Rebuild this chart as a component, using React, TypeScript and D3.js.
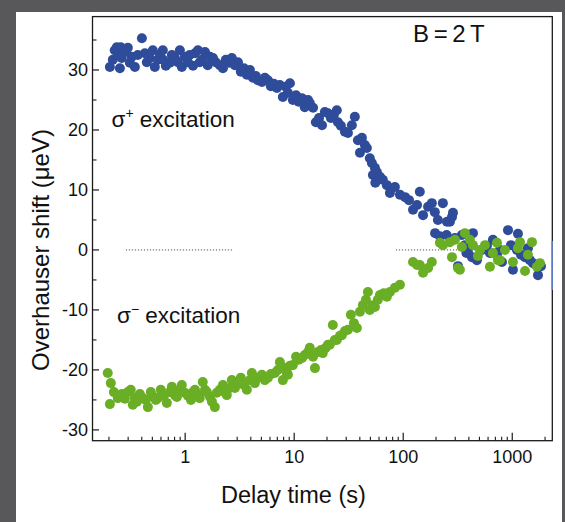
import React from 'react';
import * as d3 from 'd3';

// sigma+ excitation: [delay time (s), Overhauser shift (µeV)]
const sigmaPlus: [number, number][] = [
  [0.204,30.5],[0.217,31.7],[0.226,33.3],[0.236,33.8],[0.241,32.5],[0.257,33.8],[0.252,30.3],[0.262,32.0],
  [0.280,33.0],[0.298,33.7],[0.311,31.2],[0.324,32.2],[0.346,30.5],[0.368,32.5],[0.401,35.3],[0.427,32.8],
  [0.445,31.3],[0.474,32.0],[0.505,33.3],[0.527,30.5],[0.562,31.7],[0.586,32.5],[0.624,33.3],[0.63,31.7],
  [0.665,30.7],[0.724,31.2],[0.755,32.5],[0.805,32.0],[0.857,31.3],[0.894,33.3],[0.932,30.5],[0.994,32.2],
  [1.06,31.3],[1.10,32.5],[1.18,30.7],[1.23,32.8],[1.31,33.3],[1.36,31.3],[1.42,31.7],[1.52,33.0],
  [1.61,30.8],[1.69,32.2],[1.80,32.0],[1.91,31.3],[2.08,30.8],[2.22,30.3],[2.36,31.7],[2.52,31.2],
  [2.68,32.0],[2.86,30.8],[3.05,31.3],[3.24,29.7],[3.46,30.3],[3.68,29.2],[3.93,30.0],[4.18,28.7],
  [4.45,29.0],[4.64,28.3],[5.06,28.0],[5.38,28.7],[5.74,28.3],[6.11,27.3],[6.51,27.7],[6.94,27.0],
  [7.39,27.5],[7.87,25.5],[8.39,27.2],[8.75,26.2],[9.14,27.8],[9.73,25.0],[10.4,25.8],[11.0,24.7],
  [11.8,25.3],[12.5,23.8],[13.4,25.0],[13.9,24.5],[14.9,23.7],[15.8,21.3],[16.9,22.0],[18.0,20.8],
  [19.1,23.0],[20.4,22.8],[21.7,22.0],[23.1,22.5],[24.6,23.3],[25.2,21.3],[26.8,20.7],[29.2,19.7],
  [31.1,19.5],[33.8,20.8],[36.0,22.2],[38.4,18.3],[41.8,18.7],[44.5,17.5],[46.4,17.0],[40.1,16.2],
  [49.4,15.3],[51.6,14.5],[55.0,13.7],[52.7,12.5],[57.3,13.0],[61.1,12.2],[55.5,11.2],[65.0,11.7],
  [70.8,10.8],[75.5,9.5],[83.9,10.5],[93.3,9.2],[104,8.8],[113,8.3],[123,6.7],[134,7.5],
  [142,9.7],[152,5.8],[169,7.2],[183,7.8],[195,6.3],[208,5.0],[231,7.8],[252,4.7],
  [280,5.5],[286,6.2],[196,2.8],[217,2.3],[250,2.5],[268,4.7],[298,2.0],[318,-2.7],
  [345,2.5],[368,0.8],[380,-0.5],[392,-0.3],[427,-1.2],[436,2.8],[474,-1.7],[527,0.0],
  [586,0.7],[624,-0.5],[665,1.7],[724,-0.8],[771,0.0],[805,-2.0],[914,3.3],[973,0.8],
  [1015,-3.3],[1104,0.0],[1128,2.7],[1202,-0.8],[1309,-1.2],[1393,0.3],[1453,-1.7],[1549,-2.2],
  [1722,-4.2],[1834,-2.7],
];

// sigma- excitation: [delay time (s), Overhauser shift (µeV)]
const sigmaMinus: [number, number][] = [
  [0.195,-20.5],[0.208,-22.2],[0.204,-25.7],[0.222,-23.7],[0.241,-24.7],[0.262,-24.0],[0.280,-24.8],[0.298,-23.7],
  [0.317,-23.3],[0.331,-25.8],[0.346,-24.7],[0.361,-25.3],[0.384,-24.0],[0.409,-24.7],[0.436,-25.0],[0.455,-26.2],
  [0.484,-23.7],[0.516,-24.5],[0.538,-25.0],[0.562,-24.7],[0.598,-23.3],[0.637,-24.3],[0.679,-25.5],[0.724,-23.7],
  [0.755,-22.8],[0.805,-24.2],[0.839,-24.5],[0.894,-23.3],[0.932,-22.5],[0.994,-23.8],[1.06,-24.3],[1.13,-25.0],
  [1.18,-23.7],[1.23,-23.3],[1.31,-24.2],[1.36,-24.7],[1.45,-22.0],[1.52,-23.3],[1.58,-23.7],[1.69,-24.5],
  [1.76,-25.3],[1.87,-26.2],[1.95,-23.8],[2.08,-23.3],[2.22,-22.5],[2.31,-23.7],[2.41,-24.2],[2.57,-23.0],
  [2.68,-21.7],[2.86,-23.0],[3.05,-22.2],[3.24,-21.3],[3.46,-22.5],[3.68,-23.3],[3.93,-21.7],[4.09,-20.5],
  [4.36,-22.2],[4.64,-21.3],[5.06,-20.8],[5.38,-21.7],[5.74,-21.3],[6.11,-20.7],[6.65,-20.5],[7.08,-20.0],
  [7.39,-18.7],[7.87,-21.7],[8.22,-19.7],[8.57,-20.5],[8.75,-20.8],[9.14,-19.3],[9.73,-19.2],[10.4,-17.8],
  [11.0,-18.3],[11.8,-18.0],[12.5,-17.5],[13.4,-17.0],[13.9,-16.3],[14.9,-17.8],[15.5,-19.7],[16.5,-17.0],
  [17.6,-16.7],[18.3,-17.2],[19.5,-16.3],[20.4,-15.8],[21.2,-15.8],[22.6,-12.5],[23.6,-15.0],[24.6,-15.0],
  [26.3,-14.3],[27.4,-14.2],[29.2,-13.5],[31.1,-13.3],[33.1,-10.8],[35.3,-12.2],[37.6,-13.0],[40.1,-10.3],
  [42.7,-9.2],[45.5,-8.3],[47.4,-7.0],[49.4,-10.0],[52.7,-9.2],[55.0,-9.5],[58.5,-8.3],[61.1,-7.5],
  [66.4,-7.2],[70.8,-7.8],[75.5,-7.0],[83.9,-6.3],[93.3,-5.8],[123,-2.0],[134,-2.5],[142,-2.5],
  [152,-3.8],[169,-3.0],[183,-2.0],[217,1.2],[231,0.8],[268,1.3],[280,-1.2],[298,1.7],
  [318,-3.0],[331,-3.3],[345,0.5],[368,2.8],[409,1.7],[436,0.8],[484,-1.0],[506,0.0],
  [562,0.8],[624,-2.8],[665,-0.5],[724,1.2],[740,-1.7],[771,-1.7],[857,0.0],[1015,-2.0],
  [1128,0.3],[1177,1.3],[1309,-3.5],[1393,-0.8],[1517,1.3],[1686,-2.8],[1795,-2.2],
];

// dotted zero guides: [start time, end time]
const zeroGuides: [number, number][] = [[0.286, 2.74], [85.7, 700]];

const xMajorTicks = [1, 10, 100, 1000];
const xTickLabels = ['1', '10', '100', '1000'];
const yMajorTicks = [-30, -20, -10, 0, 10, 20, 30];
const yMinorTicks = [-25, -15, -5, 5, 15, 25, 35];

const BLUE = '#2f4c9b';
const GREEN = '#69ae24';
const FONT = "'Liberation Sans', Arial, Helvetica, sans-serif";

export default function App() {
  const W = 565, H = 522;
  const left = 92.5, right = 552.3, top = 16.6, bottom = 440.7;
  const x = d3.scaleLog().domain([0.1413, 2330]).range([left, right]);
  const y = d3.scaleLinear().domain([-31.8, 38.9]).range([bottom, top]);
  const xMinor = x.ticks().filter(t => Math.abs(Math.log10(t) - Math.round(Math.log10(t))) > 1e-6);
  const r = 5;

  return (
    <svg width={W} height={H} style={{ position: 'absolute', left: 0, top: 0 }} fontFamily={FONT}>
      <rect x={0} y={0} width={W} height={H} fill="#58585a" />
      <rect x={16} y={12} width={546} height={H - 12} fill="#ffffff" />

      {/* zero guides */}
      {zeroGuides.map(([a, b], i) => (
        <line key={'g' + i} x1={x(a)} x2={x(b)} y1={y(0)} y2={y(0)} stroke="#555" strokeWidth={1} strokeDasharray="1.2,1.8" />
      ))}

      {/* data */}
      <g fill={BLUE}>
        {sigmaPlus.map(([t, v], i) => <circle key={'b' + i} cx={x(t)} cy={y(v)} r={r} />)}
      </g>
      <g fill={GREEN}>
        {sigmaMinus.map(([t, v], i) => <circle key={'n' + i} cx={x(t)} cy={y(v)} r={r} />)}
      </g>

      {/* frame */}
      <rect x={left} y={top} width={right - left} height={bottom - top} fill="none" stroke="#1a1a1a" strokeWidth={1.3} />
      <line x1={right} x2={right} y1={241} y2={290} stroke="#5b78c4" strokeWidth={1.4} />

      {/* x ticks */}
      {xMajorTicks.map((t, i) => (
        <g key={'xm' + i}>
          <line x1={x(t)} x2={x(t)} y1={bottom} y2={bottom - 8} stroke="#1a1a1a" strokeWidth={1.2} />
          <text x={x(t)} y={463} textAnchor="middle" fontSize={18} fill="#111">{xTickLabels[i]}</text>
        </g>
      ))}
      {xMinor.map((t, i) => (
        <line key={'xn' + i} x1={x(t)} x2={x(t)} y1={bottom} y2={bottom - 4} stroke="#1a1a1a" strokeWidth={1.1} />
      ))}

      {/* y ticks */}
      {yMajorTicks.map((v, i) => (
        <g key={'ym' + i}>
          <line x1={left} x2={left + 6.5} y1={y(v)} y2={y(v)} stroke="#1a1a1a" strokeWidth={1.2} />
          <text x={88} y={y(v)} dy="0.35em" textAnchor="end" fontSize={18} fill="#111">{String(v)}</text>
        </g>
      ))}
      {yMinorTicks.map((v, i) => (
        <line key={'yn' + i} x1={left} x2={left + 4} y1={y(v)} y2={y(v)} stroke="#1a1a1a" strokeWidth={1.1} />
      ))}

      {/* axis titles */}
      <text x={(left + right) / 2 - 29} y={503} textAnchor="middle" fontSize={23.5} fill="#111">Delay time (s)</text>
      <text transform="translate(49,250) rotate(-90)" textAnchor="middle" fontSize={24} fill="#111">Overhauser shift (μeV)</text>

      {/* annotations */}
      <text x={413} y={41.5} fontSize={24} wordSpacing={-2} fill="#111">B = 2 T</text>
      <text x={111.5} y={127} fontSize={22.5} fill="#111">
        σ<tspan fontSize={14} dy={-9}>+</tspan><tspan dy={9}> excitation</tspan>
      </text>
      <text x={117} y={322.5} fontSize={22.5} fill="#111">
        σ<tspan fontSize={14} dy={-9}>−</tspan><tspan dy={9}> excitation</tspan>
      </text>
    </svg>
  );
}
